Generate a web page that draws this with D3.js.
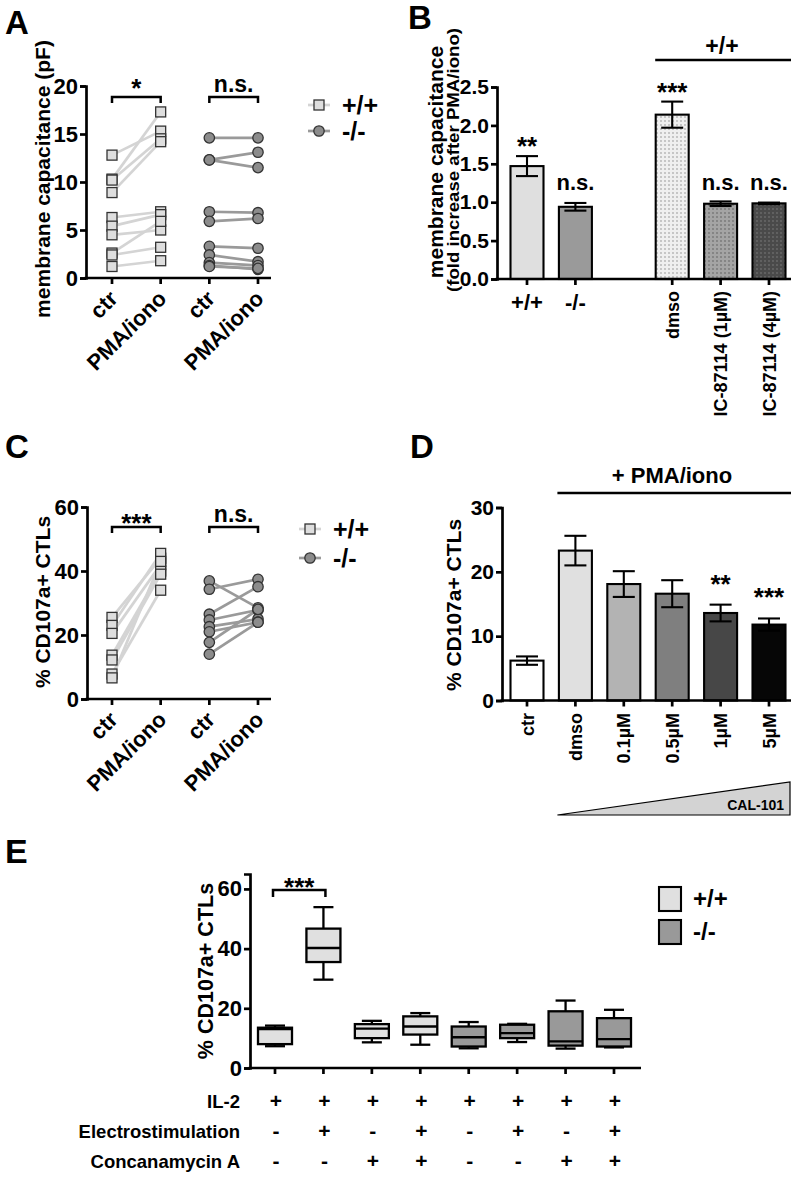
<!DOCTYPE html>
<html><head><meta charset="utf-8">
<script src="https://cdn.jsdelivr.net/npm/d3@7"></script>
<style>body{margin:0;background:#fff}</style>
</head><body>
<svg id="fig" width="799" height="1177" xmlns="http://www.w3.org/2000/svg"></svg>
<script>
// ---------------- DATA ----------------
// Panel A: membrane capacitance (pF), paired ctr -> PMA/iono
const aKeys = ["wt-ctr", "wt-pma", "ko-ctr", "ko-pma"];
const aTickLabels = ["ctr", "PMA/iono", "ctr", "PMA/iono"];
const aWTctr = [12.8, 10.3, 10.2, 8.9, 6.3, 5.4, 4.5, 2.6, 2.4, 1.2];
const aWTpma = [15.3, 17.3, 14.5, 14.2, 6.9, 6.6, 5.0, 5.9, 3.2, 1.8];
const aKOctr = [14.6, 12.3, 12.3, 6.9, 5.9, 3.3, 2.4, 1.6, 1.3, 1.2];
const aKOpma = [14.6, 13.1, 11.5, 6.8, 6.2, 3.1, 1.7, 1.3, 0.9, 1.0];
const aYTicks = [0, 5, 10, 15, 20];

// Panel B: fold increase after PMA/iono
const bCats = ["+/+", "-/-", " ", "dmso", "IC-87114 (1µM)", "IC-87114 (4µM)"];
const bMeans = [1.47, 0.94, null, 2.14, 0.98, 0.985];
const bErr = [0.13, 0.05, null, 0.17, 0.03, 0.01];
const bSig = ["**", "n.s.", null, "***", "n.s.", "n.s."];
const bYTicks = [0, 0.5, 1.0, 1.5, 2.0, 2.5];

// Panel C: % CD107a+ CTLs paired
const cWTctr = [25.5, 23.0, 20.5, 13.7, 12.2, 7.8, 6.6];
const cWTpma = [44.0, 45.5, 42.0, 40.0, 39.0, 34.0, 43.0];
const cKOctr = [36.9, 34.3, 26.5, 24.7, 22.6, 21.0, 17.7, 14.0];
const cKOpma = [28.5, 37.4, 35.1, 27.8, 25.0, 24.0, 28.0, 24.0];
const cYTicks = [0, 20, 40, 60];

// Panel D: % CD107a+ CTLs with CAL-101
const dCats = ["ctr", "dmso", "0.1µM", "0.5µM", "1µM", "5µM"];
const dMeans = [6.2, 23.3, 18.1, 16.6, 13.6, 11.8];
const dErr = [0.65, 2.3, 2.0, 2.1, 1.3, 0.95];
const dSig = ["", "", "", "", "**", "***"];
const dYTicks = [0, 10, 20, 30];

// Panel E: box plots
const eIdx = [0, 1, 2, 3, 4, 5, 6, 7];
const eGeno = ["+/+", "+/+", "+/+", "+/+", "-/-", "-/-", "-/-", "-/-"];
const eMin = [7.3, 29.6, 8.6, 7.8, 6.6, 8.7, 6.5, 6.9];
const eQ1  = [8.0, 35.5, 10.0, 11.2, 7.2, 10.0, 7.5, 7.2];
const eMed = [13.0, 40.2, 13.2, 13.9, 10.3, 11.7, 8.9, 9.7];
const eQ3  = [13.5, 46.7, 14.7, 17.3, 13.9, 14.5, 19.0, 16.7];
const eMax = [14.2, 53.9, 15.8, 18.4, 15.4, 14.8, 22.6, 19.5];
const eIL2 = ["+", "+", "+", "+", "+", "+", "+", "+"];
const eElec = ["-", "+", "-", "+", "-", "+", "-", "+"];
const eConc = ["-", "-", "+", "+", "-", "-", "+", "+"];
const eYTicks = [0, 20, 40, 60];

// ---------------- STYLE ----------------
const FONT = '"Liberation Sans", Arial, Helvetica, sans-serif';
const AX = 2.7;
const WT_LINE = "#d4d4d4", KO_LINE = "#9a9a9a";
const WT_FILL = "#dedede", KO_FILL = "#8c8c8c";
const D_FILL = ["#ffffff", "#e0e0e0", "#b3b3b3", "#7f7f7f", "#474747", "#060606"];

const svg = d3.select("#fig");
const defs = svg.append("defs");
function dotPattern(id, bg, dot) {
  const p = defs.append("pattern").attr("id", id).attr("width", 4).attr("height", 4)
    .attr("patternUnits", "userSpaceOnUse");
  p.append("rect").attr("width", 4).attr("height", 4).attr("fill", bg);
  p.append("circle").attr("cx", 1).attr("cy", 1).attr("r", 0.65).attr("fill", dot);
}
dotPattern("dL", "#efefef", "#7a7a7a");
dotPattern("dM", "#a4a4a4", "#4a4a4a");
dotPattern("dD", "#4a4a4a", "#8a8a8a");
const B_FILL = ["#dfdfdf", "#9a9a9a", "none", "url(#dL)", "url(#dM)", "url(#dD)"];

function T(x, y, str, fs, opts = {}) {
  const t = svg.append("text").attr("x", x).attr("y", y).text(str)
    .attr("font-size", fs).attr("font-weight", "bold").attr("font-family", FONT)
    .attr("text-anchor", opts.anchor || "middle").attr("fill", "#000");
  if (opts.rot != null) t.attr("transform", `rotate(${opts.rot},${x},${y})`);
  if (opts.len) t.attr("textLength", opts.len).attr("lengthAdjust", "spacingAndGlyphs");
  return t;
}
function yAxis(x0, y, ticks, fmt, fs) {
  const g = svg.append("g").attr("transform", `translate(${x0},0)`)
    .call(d3.axisLeft(y).tickValues(ticks).tickFormat(fmt).tickSizeOuter(0).tickSize(6).tickPadding(2));
  g.attr("font-family", FONT).attr("font-size", fs).attr("font-weight", "bold");
  g.select(".domain").attr("stroke", "#000").attr("stroke-width", AX);
  g.selectAll(".tick line").attr("stroke", "#000").attr("stroke-width", AX);
  g.selectAll(".tick text").attr("fill", "#000");
  return g;
}
function xBase(x0, x1, y0) {
  svg.append("line").attr("x1", x0 - AX / 2).attr("x2", x1).attr("y1", y0).attr("y2", y0)
    .attr("stroke", "#000").attr("stroke-width", AX);
}
function xTicks(x, keys, y0, len = 6) {
  svg.append("g").selectAll("line").data(keys).join("line")
    .attr("x1", d => x(d)).attr("x2", d => x(d)).attr("y1", y0).attr("y2", y0 + len)
    .attr("stroke", "#000").attr("stroke-width", AX);
}
function bracket(x1, x2, y, drop = 6) {
  svg.append("path").attr("d", `M${x1},${y + drop}V${y}H${x2}V${y + drop}`)
    .attr("fill", "none").attr("stroke", "#000").attr("stroke-width", 2.5);
}
function errBar(x, yTop, yBot, half = 11) {
  const g = svg.append("g").attr("stroke", "#000").attr("stroke-width", 2.1);
  g.append("line").attr("x1", x).attr("x2", x).attr("y1", yTop).attr("y2", yBot);
  g.append("line").attr("x1", x - half).attr("x2", x + half).attr("y1", yTop).attr("y2", yTop);
  g.append("line").attr("x1", x - half).attr("x2", x + half).attr("y1", yBot).attr("y2", yBot);
}
function pairs(x, y, k1, k2, a, b, lineCol, shape) {
  const g = svg.append("g");
  g.selectAll("line").data(a).join("line")
    .attr("x1", x(k1)).attr("x2", x(k2))
    .attr("y1", d => y(d)).attr("y2", (d, i) => y(b[i]))
    .attr("stroke", lineCol).attr("stroke-width", 2.7);
  const pts = a.map(v => [k1, v]).concat(b.map(v => [k2, v]));
  if (shape === "sq") {
    g.selectAll("rect").data(pts).join("rect")
      .attr("x", d => x(d[0]) - 5).attr("y", d => y(d[1]) - 5).attr("width", 10).attr("height", 10)
      .attr("fill", WT_FILL).attr("stroke", "#333").attr("stroke-width", 1.3);
  } else {
    g.selectAll("circle").data(pts).join("circle")
      .attr("cx", d => x(d[0])).attr("cy", d => y(d[1])).attr("r", 5.2)
      .attr("fill", KO_FILL).attr("stroke", "#333").attr("stroke-width", 1.3);
  }
}
function legendPoint(x, y, lineCol, shape, label, fs) {
  svg.append("line").attr("x1", x - 11).attr("x2", x + 11).attr("y1", y).attr("y2", y)
    .attr("stroke", lineCol).attr("stroke-width", 2.7);
  if (shape === "sq") svg.append("rect").attr("x", x - 5).attr("y", y - 5).attr("width", 10).attr("height", 10)
    .attr("fill", WT_FILL).attr("stroke", "#333").attr("stroke-width", 1.3);
  else svg.append("circle").attr("cx", x).attr("cy", y).attr("r", 5.2)
    .attr("fill", KO_FILL).attr("stroke", "#333").attr("stroke-width", 1.3);
  T(x + 23, y + 8.5, label, fs, { anchor: "start" });
}
function rotXLabels(x, keys, labels, y0, fs) {
  keys.forEach((k, i) => T(x(k) + 7, y0, labels[i], fs, { anchor: "end", rot: -45 }));
}

// ---------------- PANEL A ----------------
{
  const y = d3.scaleLinear().domain([0, 20]).range([278, 86]);
  const x = d3.scalePoint().domain(aKeys).range([112, 258]);
  T(5, 34, "A", 33, { anchor: "start" });
  yAxis(86, y, aYTicks, d3.format("d"), 22);
  xBase(86, 271, y(0));
  xTicks(x, aKeys, y(0));
  rotXLabels(x, aKeys, aTickLabels, 300, 22);
  T(50, 179, "membrane capacitance (pF)", 21, { rot: -90 });
  pairs(x, y, "wt-ctr", "wt-pma", aWTctr, aWTpma, WT_LINE, "sq");
  pairs(x, y, "ko-ctr", "ko-pma", aKOctr, aKOpma, KO_LINE, "ci");
  bracket(x("wt-ctr"), x("wt-pma"), 97);
  T((x("wt-ctr") + x("wt-pma")) / 2, 97, "*", 26);
  bracket(x("ko-ctr"), x("ko-pma"), 97);
  T((x("ko-ctr") + x("ko-pma")) / 2, 92, "n.s.", 23);
  legendPoint(319, 105, WT_LINE, "sq", "+/+", 25);
  legendPoint(319, 131, KO_LINE, "ci", "-/-", 25);
}

// ---------------- PANEL B ----------------
{
  const y = d3.scaleLinear().domain([0, 2.5]).range([279, 87]);
  const x = d3.scalePoint().domain(bCats).range([527, 769]);
  const bw = 33;
  T(408, 29, "B", 33, { anchor: "start" });
  const idx = d3.range(bCats.length).filter(i => bMeans[i] != null);
  svg.append("g").selectAll("rect").data(idx).join("rect")
    .attr("x", i => x(bCats[i]) - bw / 2).attr("width", bw)
    .attr("y", i => y(bMeans[i])).attr("height", i => y(0) - y(bMeans[i]))
    .attr("fill", i => B_FILL[i]).attr("stroke", "#000").attr("stroke-width", 2.1);
  idx.forEach(i => errBar(x(bCats[i]), y(bMeans[i] + bErr[i]), y(bMeans[i] - bErr[i])));
  yAxis(497, y, bYTicks, d3.format(".1f"), 21);
  xBase(497, 791, y(0));
  xTicks(x, idx.map(i => bCats[i]), y(0));
  idx.forEach(i => {
    const c = bCats[i];
    if (i < 2) T(x(c), 310, c, 22);
    else T(x(c) + 6.5, 291, c, 18, { anchor: "end", rot: -90 });
    const sig = bSig[i];
    if (sig === "n.s.") T(x(c), 190, sig, 22);
    else T(x(c), y(bMeans[i] + bErr[i]) - 1, sig, 26);
  });
  T(443, 162, "membrane capacitance", 21, { rot: -90 });
  T(459, 160, "(fold increase after PMA/iono)", 16, { rot: -90, len: 264 });
  svg.append("line").attr("x1", x("dmso") - 17).attr("x2", 791).attr("y1", 60).attr("y2", 60)
    .attr("stroke", "#000").attr("stroke-width", 2.5);
  T(722, 54, "+/+", 23);
}

// ---------------- PANEL C ----------------
{
  const y = d3.scaleLinear().domain([0, 60]).range([699, 507]);
  const x = d3.scalePoint().domain(aKeys).range([112, 258]);
  T(5, 458, "C", 33, { anchor: "start" });
  yAxis(87, y, cYTicks, d3.format("d"), 22);
  xBase(87, 271, y(0));
  xTicks(x, aKeys, y(0));
  rotXLabels(x, aKeys, aTickLabels, 721, 22);
  T(50, 602, "% CD107a+ CTLs", 21, { rot: -90 });
  pairs(x, y, "wt-ctr", "wt-pma", cWTctr, cWTpma, WT_LINE, "sq");
  pairs(x, y, "ko-ctr", "ko-pma", cKOctr, cKOpma, KO_LINE, "ci");
  bracket(x("wt-ctr"), x("wt-pma"), 527);
  T((x("wt-ctr") + x("wt-pma")) / 2, 532, "***", 26);
  bracket(x("ko-ctr"), x("ko-pma"), 527);
  T((x("ko-ctr") + x("ko-pma")) / 2, 522, "n.s.", 23);
  legendPoint(310, 529, WT_LINE, "sq", "+/+", 25);
  legendPoint(310, 558, KO_LINE, "ci", "-/-", 25);
}

// ---------------- PANEL D ----------------
{
  const y = d3.scaleLinear().domain([0, 30]).range([700.5, 507.5]);
  const x = d3.scalePoint().domain(dCats).range([527, 769]);
  const bw = 33;
  T(410, 458, "D", 33, { anchor: "start" });
  svg.append("g").selectAll("rect").data(dCats).join("rect")
    .attr("x", d => x(d) - bw / 2).attr("width", bw)
    .attr("y", (d, i) => y(dMeans[i])).attr("height", (d, i) => y(0) - y(dMeans[i]))
    .attr("fill", (d, i) => D_FILL[i]).attr("stroke", "#000").attr("stroke-width", 2.1);
  dCats.forEach((c, i) => errBar(x(c), y(dMeans[i] + dErr[i]), y(dMeans[i] - dErr[i])));
  yAxis(502, y, dYTicks, d3.format("d"), 21);
  xBase(502, 791, y(0));
  xTicks(x, dCats, y(0));
  dCats.forEach((c, i) => {
    T(x(c) + 6.5, 713, c, 18, { anchor: "end", rot: -90 });
    if (dSig[i]) T(x(c), y(dMeans[i] + dErr[i]) - 12, dSig[i], 26);
  });
  T(461, 605, "% CD107a+ CTLs", 21, { rot: -90 });
  svg.append("line").attr("x1", x("dmso") - 18).attr("x2", 791).attr("y1", 493).attr("y2", 493)
    .attr("stroke", "#000").attr("stroke-width", 2.5);
  T(672, 483, "+ PMA/iono", 22);
  // CAL-101 wedge
  const xl = x("dmso") - 18, xr = 790;
  svg.append("polygon").attr("points", `${xl},815 ${xr},782 ${xr},815`)
    .attr("fill", "#d3d3d3").attr("stroke", "#000").attr("stroke-width", 1.2);
  T(784, 810, "CAL-101", 14, { anchor: "end" });
}

// ---------------- PANEL E ----------------
{
  const y = d3.scaleLinear().domain([0, 65]).range([1068, 874]);
  const x = d3.scalePoint().domain(eIdx).range([275, 614]);
  const bw = 34, cap = 10;
  T(5, 863, "E", 34, { anchor: "start" });
  const g = svg.append("g").attr("stroke", "#000").attr("stroke-width", 2.3);
  eIdx.forEach(i => {
    const cx = x(i);
    g.append("line").attr("x1", cx).attr("x2", cx).attr("y1", y(eMax[i])).attr("y2", y(eQ3[i]));
    g.append("line").attr("x1", cx).attr("x2", cx).attr("y1", y(eQ1[i])).attr("y2", y(eMin[i]));
    g.append("line").attr("x1", cx - cap).attr("x2", cx + cap).attr("y1", y(eMax[i])).attr("y2", y(eMax[i]));
    g.append("line").attr("x1", cx - cap).attr("x2", cx + cap).attr("y1", y(eMin[i])).attr("y2", y(eMin[i]));
    g.append("rect").attr("x", cx - bw / 2).attr("width", bw)
      .attr("y", y(eQ3[i])).attr("height", y(eQ1[i]) - y(eQ3[i]))
      .attr("fill", eGeno[i] === "+/+" ? "#e0e0e0" : "#999999");
    g.append("line").attr("x1", cx - bw / 2).attr("x2", cx + bw / 2).attr("y1", y(eMed[i])).attr("y2", y(eMed[i]));
  });
  yAxis(250, y, eYTicks, d3.format("d"), 22);
  xBase(250, 641, y(0));
  xTicks(x, eIdx, y(0));
  T(213, 971, "% CD107a+ CTLs", 21.5, { rot: -90 });
  bracket(x(0) - 2, x(1) + 2, 890, 7);
  T((x(0) + x(1)) / 2, 896, "***", 26);
  const rows = [["IL-2", eIL2, 1108], ["Electrostimulation", eElec, 1138], ["Concanamycin A", eConc, 1168]];
  rows.forEach(([lab, arr, yy]) => {
    T(240, yy, lab, 18.5, { anchor: "end" });
    arr.forEach((s, i) => T(x(i) + 1, yy, s, 21));
  });
  // legend
  [["+/+", "#e0e0e0", 887], ["-/-", "#999999", 920]].forEach(([lab, col, yy]) => {
    svg.append("rect").attr("x", 659).attr("y", yy).attr("width", 22).attr("height", 24)
      .attr("fill", col).attr("stroke", "#000").attr("stroke-width", 2.1);
    T(693, yy + 20, lab, 24, { anchor: "start" });
  });
}
</script>
</body></html>
